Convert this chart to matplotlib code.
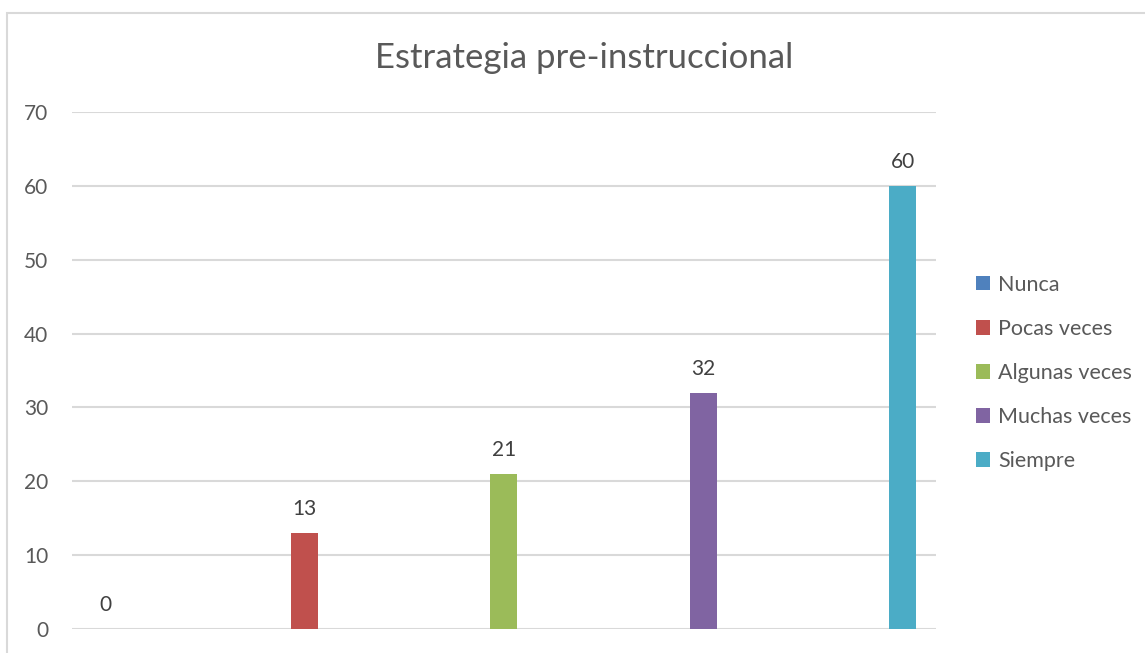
import matplotlib
matplotlib.use("Agg")
import matplotlib.pyplot as plt
from matplotlib.patches import Rectangle, Patch

# Datos
categorias = ["Nunca", "Pocas veces", "Algunas veces", "Muchas veces", "Siempre"]
valores = [0, 13, 21, 32, 60]
colores = ["#4F81BD", "#C0504D", "#9BBB59", "#8064A2", "#4BACC6"]
titulo = "Estrategia pre-instruccional"

plt.rcParams["font.family"] = ["Lato", "DejaVu Sans"]
gris = "#595959"

fig = plt.figure(figsize=(11.45, 6.53), dpi=100)
fig.patch.set_facecolor("white")

# marco del grafico (recortado a la derecha y abajo, como en la captura)
fig.patches.append(Rectangle((7 / 1145, -0.2), 1.2, 1.2 - 13 / 653,
                             transform=fig.transFigure, fill=False,
                             edgecolor="#d9d9d9", linewidth=1.5))

ax = fig.add_axes([72 / 1145, 1 - 629 / 653, 864 / 1145, 517 / 653])

x = range(len(categorias))
barras = ax.bar(x, valores, width=0.135, color=colores, zorder=3)
ax.bar_label(barras, labels=[str(v) for v in valores], padding=10,
             fontsize=15, color="#404040")

ax.set_xlim(-0.166, 4.168)
ax.set_ylim(0, 70)
ax.set_yticks(range(0, 71, 10))
ax.set_xticks([])
ax.grid(axis="y", color="#d9d9d9", linewidth=1.5, zorder=0)
ax.tick_params(axis="y", length=0, pad=17, labelsize=15, labelcolor=gris)
for s in ax.spines.values():
    s.set_visible(False)

fig.text(584 / 1145, 1 - 58 / 653, titulo, ha="center", va="center",
         fontsize=25, color=gris)

handles = [Patch(facecolor=c, label=l) for c, l in zip(colores, categorias)]
fig.legend(handles=handles, loc="center left",
           bbox_to_anchor=(957 / 1145, 1 - 373 / 653), frameon=False,
           fontsize=15.5, labelcolor=gris, handlelength=0.65, handleheight=0.65,
           handletextpad=0.35, labelspacing=1.12)

fig.savefig("out.png", dpi=100)
